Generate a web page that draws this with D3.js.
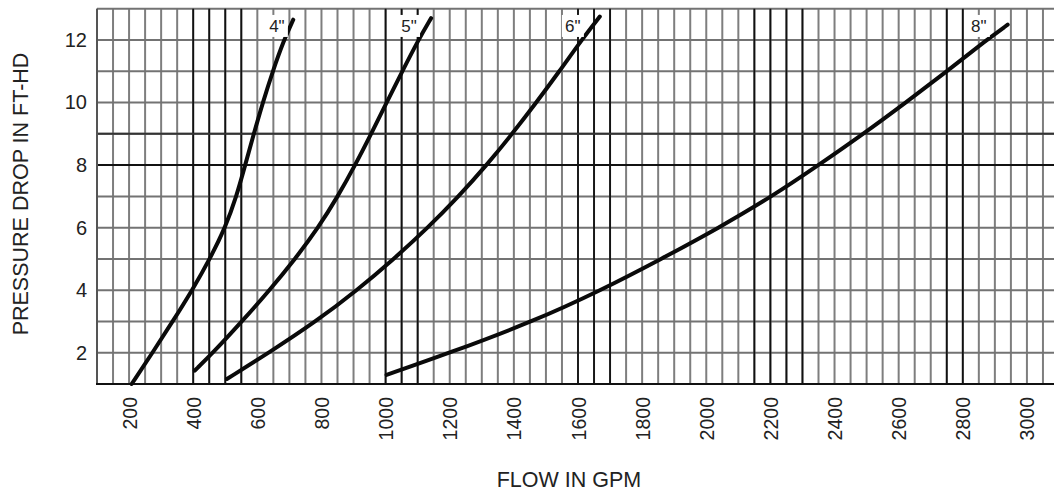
<!DOCTYPE html>
<html>
<head>
<meta charset="utf-8">
<script src="https://cdn.jsdelivr.net/npm/d3@7"></script>
<style>
  body { margin: 0; background: #fff; }
  text { font-family: "Liberation Sans", Arial, sans-serif; fill: #222; }
</style>
</head>
<body>
<svg></svg>
<script>
// pipe sizes and their curves (flow in GPM, pressure drop in ft-hd)
var sizes = ['4"', '5"', '6"', '8"'];

var flow4 = [208, 273, 336, 397, 452, 500, 535, 562, 589, 617, 648, 683, 712];
var head4 = [1.0, 2, 3, 4, 5, 6, 7, 8, 9, 10, 11, 12, 12.65];

var flow5 = [405, 462, 552, 638, 718, 790, 851, 905, 955, 1003, 1052, 1102, 1142];
var head5 = [1.43, 2, 3, 4, 5, 6, 7, 8, 9, 10, 11, 12, 12.7];

var flow6 = [505, 636, 783, 911, 1026, 1132, 1228, 1315, 1395, 1470, 1542, 1611, 1668];
var head6 = [1.16, 2, 3, 4, 5, 6, 7, 8, 9, 10, 11, 12, 12.75];

var flow8 = [1003, 1201, 1460, 1672, 1860, 2040, 2205, 2350, 2490, 2622, 2750, 2874, 2940];
var head8 = [1.29, 2, 3, 4, 5, 6, 7, 8, 9, 10, 11, 12, 12.49];

// where the size labels sit (data units)
var labelFlow = [661, 1073, 1584, 2850];
var labelHead = [12.45, 12.45, 12.45, 12.45];

var xTicks = [200, 400, 600, 800, 1000, 1200, 1400, 1600, 1800, 2000, 2200, 2400, 2600, 2800, 3000];
var yTicks = [2, 4, 6, 8, 10, 12];

// heavier grid lines as printed on the original sheet
var darkFlow = [400, 450, 500, 550, 1000, 1050, 1100, 1600, 1650, 1700, 2150, 2200, 2250, 2300, 2750, 2800];
var darkHead = [8, 9];

var curves = [
	{flow: flow4, head: head4},
	{flow: flow5, head: head5},
	{flow: flow6, head: head6},
	{flow: flow8, head: head8}
];

var svgWidth = 1054, svgHeight = 492;

var svg = d3.select('svg')
	.attr("width", svgWidth)
	.attr("height", svgHeight);

var xScale = d3.scaleLinear()
	.domain([100, 3100])
	.range([97, 1059]);
var yScale = d3.scaleLinear()
	.domain([1, 13])
	.range([384, 8.75]);

//Grid
var vLines = d3.range(100, 3101, 50);
var hLines = d3.range(1, 13.5, 1);

svg.append("g").selectAll("line")
	.data(vLines)
	.enter()
	.append("line")
	.attr("x1", function(d) { return xScale(d); })
	.attr("x2", function(d) { return xScale(d); })
	.attr("y1", yScale(13))
	.attr("y2", yScale(1))
	.attr("stroke", "#7e7e7e")
	.attr("stroke-width", 2);

svg.append("g").selectAll("line")
	.data(hLines)
	.enter()
	.append("line")
	.attr("x1", xScale(100))
	.attr("x2", xScale(3100))
	.attr("y1", function(d) { return yScale(d); })
	.attr("y2", function(d) { return yScale(d); })
	.attr("stroke", "#737373")
	.attr("stroke-width", 2);

svg.append("g").selectAll("line")
	.data(darkFlow)
	.enter()
	.append("line")
	.attr("x1", function(d) { return xScale(d); })
	.attr("x2", function(d) { return xScale(d); })
	.attr("y1", yScale(13))
	.attr("y2", yScale(1))
	.attr("stroke", "#111")
	.attr("stroke-width", 1.8);

svg.append("g").selectAll("line")
	.data(darkHead)
	.enter()
	.append("line")
	.attr("x1", xScale(100))
	.attr("x2", xScale(3100))
	.attr("y1", function(d) { return yScale(d); })
	.attr("y2", function(d) { return yScale(d); })
	.attr("stroke", function(d) { return d == 8 ? "#111" : "#333"; })
	.attr("stroke-width", 2);

// frame: left edge and bottom axis line
svg.append("line")
	.attr("x1", xScale(100)).attr("x2", xScale(100))
	.attr("y1", yScale(13)).attr("y2", yScale(1))
	.attr("stroke", "#555").attr("stroke-width", 2);
svg.append("line")
	.attr("x1", xScale(100) - 1).attr("x2", xScale(3100))
	.attr("y1", yScale(1)).attr("y2", yScale(1))
	.attr("stroke", "#111").attr("stroke-width", 2.2);

//Curves
var line = d3.line()
	.x(function(d) { return xScale(d[0]); })
	.y(function(d) { return yScale(d[1]); })
	.curve(d3.curveBasis);

svg.append("g").selectAll("path")
	.data(curves)
	.enter()
	.append("path")
	.attr("d", function(c) { return line(d3.zip(c.flow, c.head)); })
	.attr("fill", "none")
	.attr("stroke", "#0a0a0a")
	.attr("stroke-width", 4)
	.attr("stroke-linecap", "round");

//Size labels with a white patch behind them
var labels = svg.append("g").selectAll("g")
	.data(sizes)
	.enter()
	.append("g")
	.attr("transform", function(d, i) {
		return "translate(" + xScale(labelFlow[i]) + "," + yScale(labelHead[i]) + ")";
	});

labels.append("rect")
	.attr("x", -11)
	.attr("y", -11)
	.attr("width", 22)
	.attr("height", 22)
	.attr("fill", "#fff");

labels.append("text")
	.attr("text-anchor", "middle")
	.attr("dy", "0.36em")
	.style("font-size", "17px")
	.text(function(d) { return d; });

//Axis
var y_axis = d3.axisLeft(yScale)
	.tickValues(yTicks)
	.tickSize(0)
	.tickPadding(10);

svg.append("g")
	.attr("transform", "translate(" + xScale(100) + ",0)")
	.call(y_axis)
	.call(function(g) { g.select(".domain").remove(); })
	.selectAll("text")
	.style("font-family", "Liberation Sans, Arial, sans-serif")
	.style("font-size", "20px")
	.attr("fill", "#222");

var x_axis = d3.axisBottom(xScale)
	.tickValues(xTicks)
	.tickSize(0)
	.tickFormat(d3.format("d"));

svg.append("g")
	.attr("transform", "translate(0," + yScale(1) + ")")
	.call(x_axis)
	.call(function(g) { g.select(".domain").remove(); })
	.selectAll("text")
	.attr("transform", "rotate(-90)")
	.attr("x", -13)
	.attr("y", 0)
	.attr("dy", "0.36em")
	.style("text-anchor", "end")
	.style("font-family", "Liberation Sans, Arial, sans-serif")
	.style("font-size", "19.5px")
	.attr("fill", "#222");

//Titles
svg.append("text")
	.attr("x", 569)
	.attr("y", 487)
	.attr("text-anchor", "middle")
	.style("font-size", "21.5px")
	.text("FLOW IN GPM");

svg.append("text")
	.attr("transform", "translate(28," + 194 + ") rotate(-90)")
	.attr("text-anchor", "middle")
	.style("font-size", "21.5px")
	.text("PRESSURE DROP IN FT-HD");
</script>
</body>
</html>
